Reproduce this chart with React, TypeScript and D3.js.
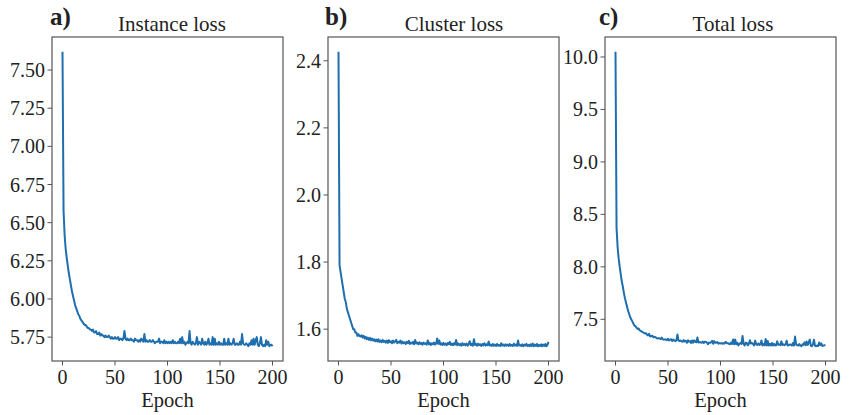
import React from "react";
import * as d3 from "d3";

// ---- Data ----
const instanceLoss: number[] = [
  7.62,
  6.58, 6.42, 6.33, 6.27, 6.22, 6.17, 6.13, 6.09, 6.05, 6.02,
  5.99, 5.96, 5.94, 5.92, 5.90, 5.89, 5.87, 5.86, 5.85, 5.84,
  5.83, 5.83, 5.82, 5.81, 5.81, 5.80, 5.80, 5.79, 5.80, 5.78,
  5.78, 5.79, 5.77, 5.77, 5.78, 5.76, 5.77, 5.76, 5.76, 5.75,
  5.76, 5.75, 5.75, 5.76, 5.75, 5.74, 5.75, 5.74, 5.74, 5.75,
  5.74, 5.74, 5.75, 5.73, 5.74, 5.74, 5.73, 5.74, 5.79, 5.74,
  5.73, 5.74, 5.73, 5.73, 5.74, 5.73, 5.73, 5.72, 5.74, 5.73,
  5.73, 5.72, 5.73, 5.72, 5.74, 5.73, 5.72, 5.77, 5.72, 5.73,
  5.72, 5.72, 5.73, 5.72, 5.72, 5.73, 5.72, 5.71, 5.72, 5.72,
  5.72, 5.74, 5.71, 5.72, 5.72, 5.71, 5.73, 5.71, 5.72, 5.71,
  5.72, 5.71, 5.72, 5.71, 5.73, 5.71, 5.72, 5.71, 5.71, 5.72,
  5.71, 5.74, 5.71, 5.75, 5.71, 5.72, 5.70, 5.71, 5.72, 5.71,
  5.79, 5.71, 5.70, 5.72, 5.71, 5.70, 5.71, 5.75, 5.70, 5.72,
  5.71, 5.70, 5.74, 5.71, 5.70, 5.72, 5.70, 5.71, 5.74, 5.70,
  5.71, 5.70, 5.75, 5.70, 5.74, 5.70, 5.71, 5.70, 5.72, 5.70,
  5.71, 5.70, 5.70, 5.74, 5.70, 5.71, 5.70, 5.74, 5.70, 5.71,
  5.70, 5.71, 5.74, 5.70, 5.70, 5.71, 5.70, 5.70, 5.72, 5.70,
  5.77, 5.71, 5.70, 5.70, 5.71, 5.70, 5.69, 5.71, 5.70, 5.73,
  5.70, 5.74, 5.70, 5.73, 5.75, 5.70, 5.69, 5.71, 5.75, 5.70,
  5.69, 5.70, 5.69, 5.73, 5.70, 5.72, 5.69, 5.70, 5.70, 5.69,
];

const clusterLoss: number[] = [
  2.427,
  1.79, 1.77, 1.75, 1.73, 1.71, 1.69, 1.68, 1.66, 1.65, 1.64,
  1.63, 1.62, 1.61, 1.60, 1.60, 1.59, 1.59, 1.58, 1.585, 1.58,
  1.578, 1.582, 1.575, 1.58, 1.572, 1.577, 1.57, 1.575, 1.568, 1.574,
  1.567, 1.572, 1.566, 1.57, 1.564, 1.569, 1.563, 1.57, 1.562, 1.566,
  1.561, 1.568, 1.562, 1.565, 1.56, 1.566, 1.559, 1.567, 1.561, 1.564,
  1.558, 1.566, 1.56, 1.563, 1.568, 1.558, 1.562, 1.56, 1.566, 1.557,
  1.563, 1.558, 1.561, 1.556, 1.562, 1.558, 1.565, 1.556, 1.56, 1.557,
  1.562, 1.555, 1.568, 1.557, 1.56, 1.555, 1.561, 1.556, 1.559, 1.554,
  1.56, 1.556, 1.558, 1.554, 1.566, 1.555, 1.559, 1.553, 1.558, 1.555,
  1.56, 1.554, 1.557, 1.572, 1.556, 1.566, 1.554, 1.558, 1.553, 1.559,
  1.554, 1.557, 1.552, 1.559, 1.555, 1.562, 1.553, 1.557, 1.552, 1.558,
  1.554, 1.568, 1.552, 1.557, 1.553, 1.556, 1.551, 1.558, 1.553, 1.556,
  1.552, 1.557, 1.551, 1.556, 1.564, 1.552, 1.556, 1.551, 1.57, 1.553,
  1.556, 1.551, 1.557, 1.552, 1.555, 1.55, 1.556, 1.552, 1.558, 1.551,
  1.555, 1.552, 1.563, 1.551, 1.554, 1.55, 1.556, 1.551, 1.554, 1.55,
  1.556, 1.551, 1.553, 1.55, 1.558, 1.551, 1.554, 1.55, 1.555, 1.551,
  1.554, 1.55, 1.556, 1.551, 1.553, 1.55, 1.557, 1.551, 1.554, 1.55,
  1.566, 1.551, 1.553, 1.55, 1.555, 1.549, 1.554, 1.551, 1.556, 1.55,
  1.553, 1.549, 1.555, 1.55, 1.557, 1.549, 1.554, 1.55, 1.556, 1.549,
  1.553, 1.55, 1.555, 1.549, 1.554, 1.55, 1.556, 1.549, 1.553, 1.562,
];

const totalLoss: number[] = [
  10.05,
  8.37, 8.19, 8.08, 8.00, 7.93, 7.86, 7.81, 7.75, 7.70, 7.66,
  7.62, 7.58, 7.55, 7.52, 7.50, 7.48, 7.46, 7.44, 7.435, 7.42,
  7.408, 7.412, 7.395, 7.39, 7.382, 7.377, 7.37, 7.365, 7.368, 7.354,
  7.347, 7.362, 7.336, 7.34, 7.344, 7.329, 7.333, 7.33, 7.322, 7.316,
  7.321, 7.318, 7.312, 7.325, 7.31, 7.306, 7.309, 7.307, 7.301, 7.314,
  7.298, 7.306, 7.31, 7.293, 7.308, 7.298, 7.292, 7.30, 7.356, 7.297,
  7.293, 7.298, 7.291, 7.286, 7.302, 7.288, 7.295, 7.276, 7.30, 7.287,
  7.292, 7.275, 7.298, 7.277, 7.30, 7.285, 7.281, 7.326, 7.279, 7.284,
  7.28, 7.276, 7.288, 7.274, 7.286, 7.285, 7.279, 7.263, 7.278, 7.275,
  7.28, 7.294, 7.267, 7.292, 7.276, 7.276, 7.284, 7.268, 7.273, 7.269,
  7.274, 7.267, 7.272, 7.269, 7.285, 7.272, 7.273, 7.267, 7.262, 7.278,
  7.264, 7.308, 7.262, 7.307, 7.263, 7.276, 7.251, 7.268, 7.273, 7.266,
  7.342, 7.267, 7.251, 7.276, 7.274, 7.252, 7.266, 7.301, 7.27, 7.273,
  7.266, 7.251, 7.297, 7.262, 7.255, 7.27, 7.256, 7.262, 7.298, 7.251,
  7.265, 7.252, 7.313, 7.251, 7.294, 7.25, 7.266, 7.251, 7.274, 7.25,
  7.266, 7.251, 7.253, 7.29, 7.258, 7.261, 7.254, 7.29, 7.255, 7.261,
  7.254, 7.26, 7.296, 7.251, 7.253, 7.26, 7.257, 7.251, 7.274, 7.25,
  7.336, 7.261, 7.253, 7.25, 7.265, 7.249, 7.244, 7.261, 7.256, 7.28,
  7.253, 7.289, 7.255, 7.28, 7.307, 7.249, 7.244, 7.26, 7.306, 7.249,
  7.243, 7.25, 7.245, 7.279, 7.254, 7.27, 7.246, 7.249, 7.253, 7.252,
];

const panelLetters = ["a)", "b)", "c)"];
const panelTitles = ["Instance loss", "Cluster loss", "Total loss"];
const xTicks = [0, 50, 100, 150, 200];
const instanceTicks = [5.75, 6.0, 6.25, 6.5, 6.75, 7.0, 7.25, 7.5];
const clusterTicks = [1.6, 1.8, 2.0, 2.2, 2.4];
const totalTicks = [7.5, 8.0, 8.5, 9.0, 9.5, 10.0];
const xLabel = "Epoch";

// ---- Layout ----
const W = 853;
const H = 415;
const FONT = "Liberation Serif, Times New Roman, Times, serif";
const TEXT = "#222";
const LINE = "#1f6fae";
const SPINE = "#555";

const panelFrames = [
  { left: 52, right: 283 },
  { left: 328, right: 559 },
  { left: 605, right: 836 },
];
const TOP = 37;
const BOTTOM = 361;
const titleX = [172, 454, 733];
const letterX = [50, 325, 599];

const panels = [
  { values: instanceLoss, ticks: instanceTicks, fmt: d3.format(".2f") },
  { values: clusterLoss, ticks: clusterTicks, fmt: d3.format(".1f") },
  { values: totalLoss, ticks: totalTicks, fmt: d3.format(".1f") },
];

function Panel({ idx }: { idx: number }) {
  const { values, ticks, fmt } = panels[idx];
  const { left, right } = panelFrames[idx];
  const x = d3.scaleLinear().domain([-10, 210]).range([left, right]);
  const [mn, mx] = d3.extent(values) as [number, number];
  const pad = (mx - mn) * 0.05;
  const y = d3.scaleLinear().domain([mn - pad, mx + pad]).range([BOTTOM, TOP]);
  const line = d3
    .line<number>()
    .x((_, i) => x(i))
    .y((d) => y(d));
  return (
    <g>
      <path d={line(values) || ""} fill="none" stroke={LINE} strokeWidth={2} strokeLinejoin="round" />
      <rect x={left} y={TOP} width={right - left} height={BOTTOM - TOP} fill="none" stroke={SPINE} strokeWidth={1.2} />
      {ticks.map((t) => (
        <g key={"y" + t}>
          <line x1={left - 4.5} x2={left} y1={y(t)} y2={y(t)} stroke={SPINE} strokeWidth={1} />
          <text x={left - 7} y={y(t)} dy="0.35em" textAnchor="end" fontSize={20} fontFamily={FONT} fill={TEXT}>
            {fmt(t)}
          </text>
        </g>
      ))}
      {xTicks.map((t) => (
        <g key={"x" + t}>
          <line x1={x(t)} x2={x(t)} y1={BOTTOM} y2={BOTTOM + 4.5} stroke={SPINE} strokeWidth={1} />
          <text x={x(t)} y={384} textAnchor="middle" fontSize={20} fontFamily={FONT} fill={TEXT}>
            {t}
          </text>
        </g>
      ))}
      <text x={(left + right) / 2} y={407} textAnchor="middle" fontSize={20.5} fontFamily={FONT} fill={TEXT}>
        {xLabel}
      </text>
      <text x={titleX[idx]} y={31} textAnchor="middle" fontSize={21} fontFamily={FONT} fill={TEXT}>
        {panelTitles[idx]}
      </text>
      <text x={letterX[idx]} y={25} textAnchor="start" fontSize={25} fontWeight="bold" fontFamily={FONT} fill={TEXT}>
        {panelLetters[idx]}
      </text>
    </g>
  );
}

export default function App() {
  return (
    <svg
      width={W}
      height={H}
      viewBox={`0 0 ${W} ${H}`}
      style={{ position: "absolute", left: 0, top: 0, background: "#fff" }}
    >
      <rect width={W} height={H} fill="#fff" />
      {[0, 1, 2].map((i) => (
        <Panel key={i} idx={i} />
      ))}
    </svg>
  );
}
